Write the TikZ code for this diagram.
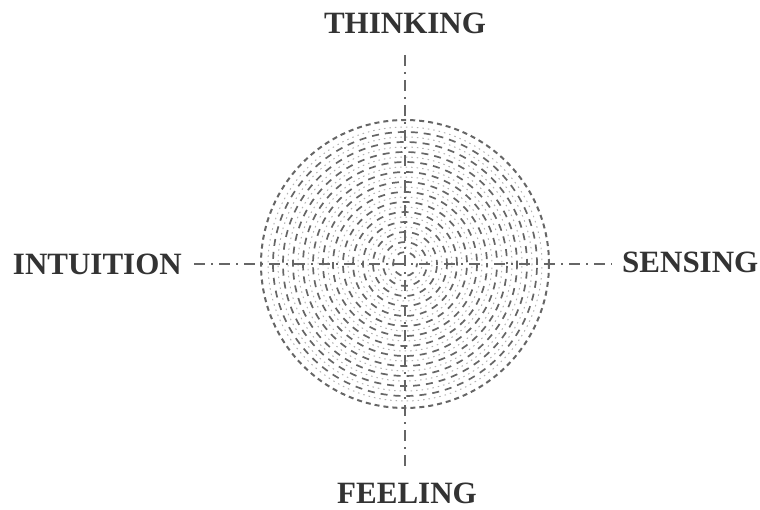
\documentclass[tikz,border=0pt]{standalone}
\usepackage{fontspec}
\setmainfont{Liberation Serif}
\begin{document}
\begin{tikzpicture}[x=1pt,y=-1pt,
  label/.style={font=\bfseries\fontsize{31}{34}\selectfont, text=black!80, inner sep=0pt},
  axis/.style={draw=black!60, line width=1.8pt, dash pattern=on 11pt off 6pt on 2pt off 6pt},
  rim/.style={draw=black!60, line width=2pt, dash pattern=on 5pt off 4pt},
  ringA/.style={draw=black!60, line width=1.7pt, dash pattern=on 7pt off 6pt},
  ringB/.style={draw=black!30, line width=1pt, dash pattern=on 1.5pt off 4pt}]
\useasboundingbox (0,0) rectangle (760,510);
\coordinate (c) at (405,264);
% texture rings
\foreach \r [count=\i] in {12,22,...,132} {
  \draw[ringA, dash phase=\i*3.7pt] (c) circle[radius=\r];
}
\foreach \r [count=\i] in {17,27,...,137} {
  \draw[ringB, dash phase=\i*2.3pt] (c) circle[radius=\r];
}
% rim
\node[circle, rim, minimum size=288pt, inner sep=0pt] (rim) at (c) {};
% labels
\node[label, anchor=base] (think) at (405,34) {THINKING};
\node[label, anchor=base] (feel) at (407,503) {FEELING};
\node[label, anchor=base east] (intu) at (182,275) {INTUITION};
\node[label, anchor=base west] (sens) at (622,273) {SENSING};
% axes
\coordinate (vt) at (405,55);
\coordinate (vb) at (405,470);
\coordinate (hl) at (194,264);
\coordinate (hr) at (612,264);
\draw[axis] (vt) -- (vb);
\draw[axis] (hl) -- (hr);
\end{tikzpicture}
\end{document}
